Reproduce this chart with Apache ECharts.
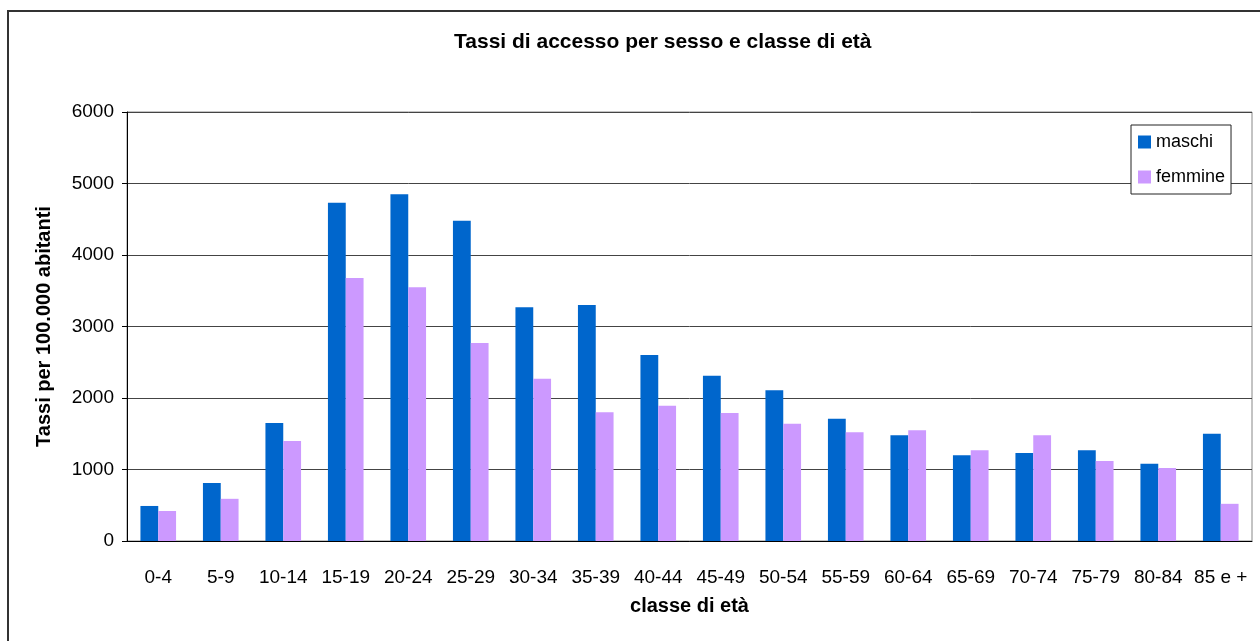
<!DOCTYPE html>
<html>
<head>
<meta charset="utf-8">
<script src="https://cdn.jsdelivr.net/npm/echarts@6/dist/echarts.min.js"></script>
<style>
  html, body { margin: 0; padding: 0; background: #fff; }
  #chart { width: 1260px; height: 641px; }
</style>
</head>
<body>
<div id="chart"></div>
<script>
const classi = ["0-4", "5-9", "10-14", "15-19", "20-24", "25-29", "30-34", "35-39", "40-44",
  "45-49", "50-54", "55-59", "60-64", "65-69", "70-74", "75-79", "80-84", "85 e +"];
const maschi = [490, 810, 1650, 4730, 4850, 4480, 3270, 3300, 2600,
  2310, 2110, 1710, 1480, 1200, 1230, 1270, 1080, 1500];
const femmine = [420, 590, 1400, 3680, 3550, 2770, 2270, 1800, 1890,
  1790, 1640, 1520, 1550, 1270, 1480, 1120, 1020, 520];

const font = "Liberation Sans, Arial, sans-serif";

const chart = echarts.init(document.getElementById("chart"));
chart.setOption({
  animation: false,
  backgroundColor: "#fff",
  textStyle: { fontFamily: font },
  graphic: [{
    type: "rect",
    shape: { x: 8, y: 11, width: 1270, height: 650 },
    style: { fill: "none", stroke: "#333", lineWidth: 2 },
    silent: true
  }],
  title: {
    text: "Tassi di accesso per sesso e classe di età",
    left: 449,
    top: 27,
    textStyle: { fontFamily: font, fontSize: 21, fontWeight: "bold", color: "#000" }
  },
  legend: {
    orient: "vertical",
    left: 1131,
    top: 125,
    padding: [8, 6, 8, 7],
    itemWidth: 13,
    itemHeight: 13,
    itemGap: 17,
    icon: "rect",
    borderColor: "#222",
    borderWidth: 1,
    backgroundColor: "#fff",
    textStyle: { fontFamily: font, fontSize: 18, color: "#000" },
    data: ["maschi", "femmine"]
  },
  grid: {
    left: 127,
    right: 8,
    top: 112,
    bottom: 100,
    show: true,
    borderColor: "#888",
    borderWidth: 1
  },
  xAxis: {
    type: "category",
    data: classi,
    name: "classe di età",
    nameLocation: "middle",
    nameGap: 55,
    nameTextStyle: { fontFamily: font, fontSize: 20, fontWeight: "bold", color: "#000" },
    axisLine: { lineStyle: { color: "#000", width: 1 } },
    axisTick: { length: 5, lineStyle: { color: "#000" } },
    axisLabel: { margin: 27, fontSize: 19, color: "#000", fontFamily: font, interval: 0 }
  },
  yAxis: {
    type: "value",
    min: 0,
    max: 6000,
    interval: 1000,
    name: "Tassi per 100.000 abitanti",
    nameLocation: "middle",
    nameGap: 73,
    nameTextStyle: { fontFamily: font, fontSize: 20, fontWeight: "bold", color: "#000" },
    axisLine: { show: true, lineStyle: { color: "#000", width: 1 } },
    axisTick: { show: true, length: 5, lineStyle: { color: "#000" } },
    axisLabel: { margin: 13, fontSize: 19, color: "#000", fontFamily: font, formatter: (v) => String(v) },
    splitLine: { lineStyle: { color: "#444", width: 1 } }
  },
  series: [
    {
      name: "maschi",
      type: "bar",
      data: maschi,
      barGap: "0%",
      barCategoryGap: "43%",
      itemStyle: { color: "#0066CC" }
    },
    {
      name: "femmine",
      type: "bar",
      data: femmine,
      barGap: "0%",
      barCategoryGap: "43%",
      itemStyle: { color: "#CC99FF" }
    }
  ]
});
</script>
</body>
</html>
